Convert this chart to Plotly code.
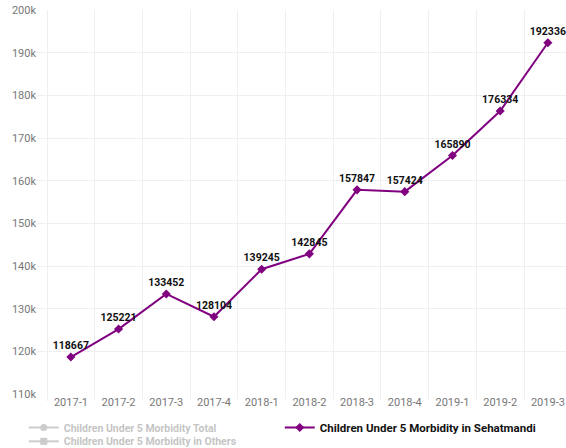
import plotly.graph_objects as go

# Quarterly periods and reported morbidity counts for children under five
quarters = ["2017-1", "2017-2", "2017-3", "2017-4", "2018-1", "2018-2",
            "2018-3", "2018-4", "2019-1", "2019-2", "2019-3"]
sehatmandi = [118667, 125221, 133452, 128104, 139245, 142845,
              157847, 157424, 165890, 176334, 192336]

# Series switched off in the legend: no values are plotted for them
total_hidden = [None] * len(quarters)
others_hidden = [None] * len(quarters)

y_ticks = [110000, 120000, 130000, 140000, 150000, 160000,
           170000, 180000, 190000, 200000]

purple = "#800080"
grid = "#efefef"
font_family = "Roboto, 'Noto Sans', sans-serif"
legend_font = dict(family=font_family, size=11.5, color="#111111", weight="bold")
hidden_font = dict(family=font_family, size=10.5, color="#111111", weight="bold")

fig = go.Figure()

fig.add_trace(go.Scatter(
    x=quarters, y=total_hidden, mode="lines+markers",
    name="<b><span style='color:#8a8a8a;font-size:10.5px'>Children Under 5 Morbidity Total</span></b>",
    line=dict(color="#999999", width=2),
    marker=dict(symbol="circle", size=7, color="#999999"),
    visible="legendonly", legend="legend",
))
fig.add_trace(go.Scatter(
    x=quarters, y=sehatmandi, mode="lines+markers+text",
    name="<b>Children Under 5 Morbidity in Sehatmandi</b>",
    line=dict(color=purple, width=2),
    marker=dict(symbol="diamond", size=7, color=purple),
    text=[str(v) for v in sehatmandi],
    textposition="top center",
    textfont=dict(family=font_family, size=10.5, color="#111111", weight="bold"),
    cliponaxis=False, legend="legend",
))
fig.add_trace(go.Scatter(
    x=quarters, y=others_hidden, mode="lines+markers",
    name="<b><span style='color:#8a8a8a'>Children Under 5 Morbidity in Others</span></b>",
    line=dict(color="#999999", width=2),
    marker=dict(symbol="square", size=7, color="#999999"),
    visible="legendonly", legend="legend2",
))

fig.update_layout(
    width=566, height=448,
    margin=dict(l=37, r=0, t=10, b=54, autoexpand=False),
    paper_bgcolor="white", plot_bgcolor="white",
    font=dict(family=font_family, size=11, color="#777777"),
    showlegend=True,
    legend=dict(
        orientation="h", x=-0.025, xanchor="left", y=-0.0495, yanchor="top",
        font=legend_font, bgcolor="rgba(0,0,0,0)",
        entrywidth=211, entrywidthmode="pixels",
        itemclick=False, itemdoubleclick=False,
    ),
    legend2=dict(
        orientation="h", x=-0.025, xanchor="left", y=-0.0855, yanchor="top",
        font=hidden_font, bgcolor="rgba(0,0,0,0)",
        itemclick=False, itemdoubleclick=False,
    ),
    xaxis=dict(
        type="category", categoryorder="array", categoryarray=quarters,
        range=[-0.71, 10.38],
        tickson="boundaries", showgrid=True, gridcolor=grid, gridwidth=1,
        ticks="outside", ticklen=6, tickcolor=grid,
        showline=False, zeroline=False,
        tickfont=dict(size=11, color="#777777"),
    ),
    yaxis=dict(
        range=[110000, 200000], tickvals=y_ticks, tickformat="~s",
        showgrid=True, gridcolor=grid, gridwidth=1,
        showline=False, zeroline=False, ticks="",
        tickfont=dict(size=11, color="#777777"),
    ),
)

fig.write_html("out.html")
